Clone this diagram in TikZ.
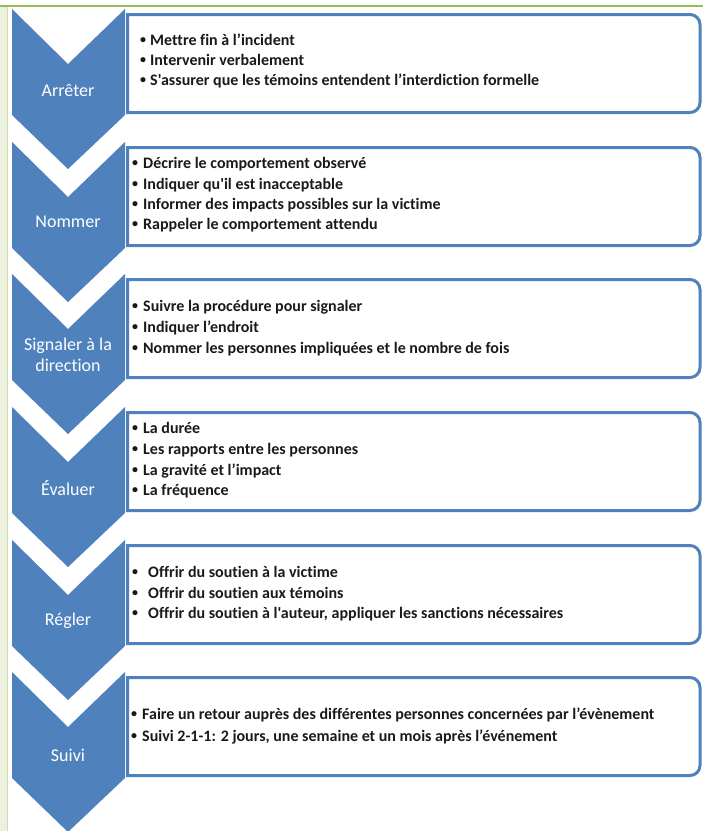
\documentclass[tikz,border=0pt]{standalone}
\usepackage{fontspec}
\setmainfont{Carlito}[Ligatures={TeXOff,NoCommon}]
\definecolor{chevblue}{HTML}{4F81BD}
\definecolor{stripgreen}{HTML}{EBF1DE}
\definecolor{linegreen}{HTML}{9BBB59}
\definecolor{txt}{HTML}{1A1A1A}
\begin{document}
\begin{tikzpicture}[x=1pt,y=-1pt,
  chev/.style={fill=chevblue},
  listbox/.style={draw=chevblue, line width=3pt, fill=white},
  lab/.style={text=white, font=\fontsize{18}{21}\selectfont, align=center, inner sep=0pt},
  bul/.style={anchor=center, inner sep=0pt, text=txt, font=\fontsize{12}{14}\selectfont\bfseries},
  itm/.style={anchor=west, inner sep=0pt, text=txt, font=\fontsize{16}{19}\selectfont\bfseries, text height=11pt, text depth=3pt}]
\useasboundingbox (0,0) rectangle (703,831);
\fill[white] (0,0) rectangle (703,831);
\fill[stripgreen] (0,6) rectangle (7,831);
\draw[linegreen!50, line width=0.8pt] (7,6) -- (7,831);
\draw[linegreen, line width=1.5pt] (0,6) -- (703,6);
\foreach \ty in {9,142,274,407,540,672}{
  \fill[chev] (12,\ty) -- (68,\ty+55) -- (125,\ty) -- (125,\ty+106) -- (68,\ty+160) -- (12,\ty+106) -- cycle;
  \draw[listbox] (127.5,\ty+5.5) -- (690,\ty+5.5) .. controls (695.5,\ty+5.5) and (700,\ty+10) .. (700,\ty+15.5) -- (700,\ty+93.5) .. controls (700,\ty+99) and (695.5,\ty+103.5) .. (690,\ty+103.5) -- (127.5,\ty+103.5) -- cycle;
}
% labels
\node[lab] (l1) at (68,90) {Arrêter};
\node[lab] (l2) at (68,222) {Nommer};
\node[lab] (l3) at (68,355) {Signaler à la\\direction};
\node[lab] (l4) at (68,488) {Évaluer};
\node[lab] (l5) at (68,621) {Régler};
\node[lab] (l6) at (68,755) {Suivi};
% box 1
\node[bul] (b11) at (143,41) {•}; \node[itm] (t11) at (150,41) {Mettre fin à l’incident};
\node[bul] (b12) at (143,61) {•}; \node[itm] (t12) at (150,61) {Intervenir verbalement};
\node[bul] (b13) at (143,81) {•}; \node[itm] (t13) at (150,81) {S'assurer que les témoins entendent l’interdiction formelle};
% box 2
\node[bul] (b21) at (135,164) {•}; \node[itm] (t21) at (143,164) {Décrire le comportement observé};
\node[bul] (b22) at (135,185) {•}; \node[itm] (t22) at (143,185) {Indiquer qu'il est inacceptable};
\node[bul] (b23) at (135,205) {•}; \node[itm] (t23) at (143,205) {Informer des impacts possibles sur la victime};
\node[bul] (b24) at (135,225) {•}; \node[itm] (t24) at (143,225) {Rappeler le comportement attendu};
% box 3
\node[bul] (b31) at (135,307) {•}; \node[itm] (t31) at (143,307) {Suivre la procédure pour signaler};
\node[bul] (b32) at (135,328) {•}; \node[itm] (t32) at (143,328) {Indiquer l’endroit};
\node[bul] (b33) at (135,349) {•}; \node[itm] (t33) at (143,349) {Nommer les personnes impliquées et le nombre de fois};
% box 4
\node[bul] (b41) at (135,429) {•}; \node[itm] (t41) at (143,429) {La durée};
\node[bul] (b42) at (135,450) {•}; \node[itm] (t42) at (143,450) {Les rapports entre les personnes};
\node[bul] (b43) at (135,471) {•}; \node[itm] (t43) at (143,471) {La gravité et l’impact};
\node[bul] (b44) at (135,491) {•}; \node[itm] (t44) at (143,491) {La fréquence};
% box 5
\node[bul] (b51) at (135,573) {•}; \node[itm] (t51) at (148,573) {Offrir du soutien à la victime};
\node[bul] (b52) at (135,594) {•}; \node[itm] (t52) at (148,594) {Offrir du soutien aux témoins};
\node[bul] (b53) at (135,614) {•}; \node[itm] (t53) at (148,614) {Offrir du soutien à l'auteur, appliquer les sanctions nécessaires};
% box 6
\node[bul] (b61) at (134,715) {•}; \node[itm] (t61) at (142,715) {Faire un retour auprès des différentes personnes concernées par l’évènement};
\node[bul] (b62) at (134,737) {•}; \node[itm] (t62) at (142,737) {Suivi 2-1-1: 2 jours, une semaine et un mois après l’événement};
\end{tikzpicture}
\end{document}
